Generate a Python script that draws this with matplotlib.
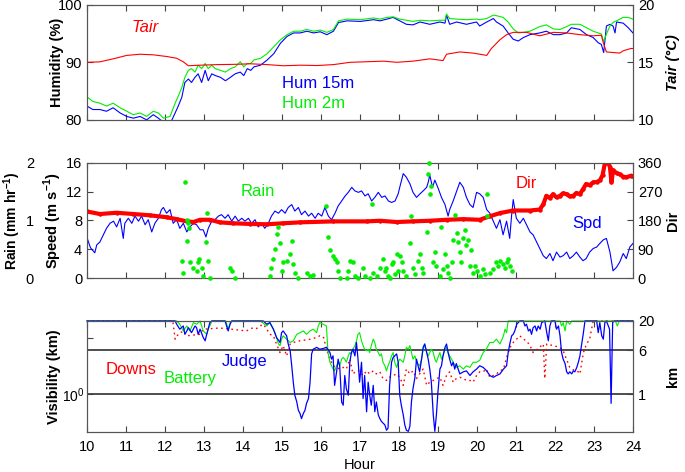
import matplotlib
matplotlib.use("Agg")
from matplotlib import pyplot as plt

plt.rcParams['font.family'] = ['Liberation Sans', 'DejaVu Sans']
plt.rcParams['mathtext.fontset'] = 'custom'
plt.rcParams['mathtext.rm'] = 'Liberation Sans'
plt.rcParams['mathtext.bf'] = 'Liberation Sans:bold'

BLUE = '#0000ff'
GREEN = '#00ee00'
RED = '#ff0000'

hours = list(range(10, 25))

# ---- top panel: humidity (%) at 15 m and 2 m, air temperature (C)
hum_hour = [10.0, 10.15, 10.33, 10.5, 10.67, 10.85, 11.02, 11.19, 11.36, 11.53,
            11.7, 11.83, 11.96, 12.13, 12.26, 12.34, 12.43, 12.51, 12.6, 12.68,
            12.77, 12.85, 12.94, 13.03, 13.11, 13.2, 13.29, 13.42, 13.55, 13.68,
            13.8, 13.93, 14.02, 14.11, 14.2, 14.28, 14.45, 14.62, 14.79, 14.96,
            15.13, 15.3, 15.47, 15.64, 15.81, 15.98, 16.15, 16.32, 16.45, 16.67,
            17.01, 17.35, 17.51, 17.69, 17.85, 18.02, 18.19, 18.36, 18.54, 18.79,
            19.05, 19.18, 19.22, 19.3, 19.48, 19.73, 19.99, 20.07, 20.25, 20.42,
            20.5, 20.67, 20.8, 20.93, 21.06, 21.19, 21.36, 21.61, 21.78, 21.96,
            22.13, 22.3, 22.42, 22.64, 22.81, 22.98, 23.11, 23.19, 23.25, 23.32,
            23.41, 23.49, 23.54, 23.58, 23.75, 23.88, 24.0]
hum15 = [82.4, 81.8, 81.8, 81.5, 82.1, 81.2, 80.6, 80.3, 80.6, 80.0,
         80.9, 80.3, 79.6, 79.3, 81.2, 82.4, 83.9, 86.5, 87.1, 86.5,
         87.4, 88.0, 86.5, 88.6, 86.8, 88.0, 87.7, 87.4, 86.8, 87.4,
         88.0, 88.3, 87.7, 88.9, 88.6, 89.2, 89.5, 90.4, 91.5, 93.3,
         94.5, 95.1, 95.1, 95.4, 95.1, 95.3, 94.8, 95.4, 96.9, 97.2,
         97.1, 97.4, 97.2, 97.5, 97.8, 97.2, 96.6, 96.5, 97.0, 96.6,
         97.0, 96.8, 98.2, 96.6, 97.0, 96.6, 97.0, 96.3, 97.0, 97.6,
         97.0, 96.3, 95.1, 94.0, 93.7, 94.3, 94.8, 95.1, 95.4, 94.8,
         94.8, 95.1, 96.0, 95.7, 94.8, 94.3, 93.4, 93.1, 91.7, 96.3,
         96.6, 96.3, 95.1, 97.0, 96.8, 96.0, 95.1]
hum2 = [84.0, 83.2, 82.9, 82.4, 82.9, 82.1, 81.5, 80.9, 81.2, 80.6,
        81.5, 81.2, 80.3, 80.6, 82.9, 84.1, 85.6, 87.4, 88.6, 88.9,
        88.3, 89.5, 88.9, 89.8, 88.9, 89.5, 88.9, 88.6, 88.3, 88.9,
        89.2, 90.1, 89.2, 89.8, 89.8, 90.4, 90.7, 91.5, 92.7, 93.9,
        94.8, 95.4, 95.4, 95.7, 95.4, 95.6, 95.2, 95.7, 97.2, 97.5,
        97.4, 97.7, 97.5, 97.8, 97.9, 97.5, 97.3, 97.1, 97.3, 97.2,
        97.3, 97.3, 98.4, 97.6, 97.5, 97.4, 97.5, 97.4, 97.6, 98.2,
        98.1, 97.8, 97.0, 95.8, 95.1, 95.2, 95.4, 96.2, 96.5, 95.8,
        95.7, 96.2, 96.6, 96.6, 96.0, 95.4, 95.1, 94.9, 93.6, 94.9,
        96.3, 96.9, 97.1, 97.2, 97.8, 97.8, 97.5]

tair_hour = [10.0, 10.33, 10.67, 11.02, 11.36, 11.7, 12.05, 12.3, 12.47, 12.6,
             12.9, 13.33, 13.76, 14.2, 14.62, 15.04, 15.47, 15.9, 16.32, 16.75,
             17.18, 17.61, 17.94, 18.36, 18.79, 19.13, 19.22, 19.56, 19.9, 20.25,
             20.37, 20.59, 20.76, 20.93, 21.27, 21.61, 21.96, 22.3, 22.64, 22.98,
             23.19, 23.24, 23.32, 23.49, 23.66, 23.75, 23.95, 24.0]
tair = [15.0, 15.04, 15.3, 15.6, 15.7, 15.65, 15.5, 15.35, 15.04, 14.7,
        14.75, 14.8, 14.82, 14.87, 14.8, 14.7, 14.75, 14.72, 14.8, 15.0,
        15.05, 15.1, 15.0, 15.1, 15.3, 15.15, 15.7, 15.9, 15.8, 15.6,
        16.2, 16.96, 17.4, 17.6, 17.6, 17.3, 17.6, 17.55, 17.4, 17.3,
        17.35, 16.7, 15.9, 15.85, 15.8, 16.0, 16.2, 16.2]

# ---- middle panel: wind speed (m/s), direction (deg), rain (mm/hr)
spd_pts = [(10.0, 5.6), (10.09, 4.2), (10.2, 3.5), (10.25, 4.6), (10.33, 5.0),
           (10.42, 6.0), (10.5, 6.9), (10.59, 7.6), (10.68, 7.9), (10.76, 7.1),
           (10.85, 8.3), (10.93, 5.5), (10.97, 7.6), (11.06, 8.3), (11.15, 7.6),
           (11.23, 8.6), (11.32, 7.9), (11.4, 8.6), (11.49, 7.4), (11.57, 8.1),
           (11.66, 6.4), (11.74, 7.6), (11.83, 8.3), (11.91, 9.5), (11.96, 9.8),
           (12.04, 9.0), (12.13, 9.5), (12.21, 7.6), (12.3, 8.1), (12.38, 6.9),
           (12.47, 7.6), (12.56, 6.4), (12.64, 7.1), (12.73, 7.6), (12.81, 7.4),
           (12.9, 6.7), (12.98, 6.7), (13.05, 5.7), (13.11, 6.9), (13.2, 7.9),
           (13.28, 8.1), (13.37, 8.6), (13.45, 8.8), (13.54, 8.3), (13.62, 8.8),
           (13.71, 7.9), (13.8, 8.6), (13.88, 7.9), (13.97, 8.3), (14.05, 7.9),
           (14.14, 8.3), (14.22, 7.6), (14.31, 8.1), (14.39, 7.1), (14.48, 7.6),
           (14.56, 6.9), (14.65, 7.6), (14.73, 8.6), (14.82, 9.3), (14.91, 9.0),
           (14.99, 9.5), (15.08, 9.0), (15.16, 9.8), (15.25, 10.2), (15.33, 9.3),
           (15.42, 9.8), (15.5, 8.8), (15.59, 9.3), (15.68, 8.6), (15.76, 9.0),
           (15.85, 8.3), (15.93, 9.0), (16.02, 8.6), (16.1, 9.8), (16.19, 8.6),
           (16.27, 8.1), (16.36, 9.0), (16.44, 10.0), (16.53, 10.7), (16.62, 11.4),
           (16.7, 11.9), (16.79, 12.6), (16.87, 12.1), (16.96, 11.9), (17.04, 12.1),
           (17.13, 11.4), (17.21, 11.7), (17.3, 10.7), (17.38, 11.2), (17.47, 11.9),
           (17.56, 11.2), (17.64, 11.4), (17.73, 10.7), (17.81, 10.5), (17.9, 10.7),
           (17.98, 11.7), (18.02, 12.6), (18.11, 14.5), (18.19, 14.0), (18.28, 13.1),
           (18.36, 11.9), (18.45, 11.2), (18.54, 11.7), (18.62, 12.1), (18.71, 12.6),
           (18.75, 13.3), (18.79, 14.3), (18.86, 12.6), (18.92, 13.6), (19.01, 12.4),
           (19.09, 11.2), (19.18, 10.2), (19.26, 8.6), (19.3, 9.5), (19.39, 10.7),
           (19.48, 12.1), (19.56, 13.3), (19.65, 12.6), (19.73, 11.2), (19.82, 10.2),
           (19.9, 9.8), (19.99, 11.9), (20.07, 11.7), (20.16, 11.2), (20.25, 9.5),
           (20.33, 9.0), (20.42, 7.9), (20.5, 6.9), (20.59, 8.1), (20.67, 6.0),
           (20.76, 7.9), (20.84, 5.5), (20.89, 8.8), (20.93, 10.9), (21.01, 8.3),
           (21.1, 7.6), (21.19, 8.3), (21.27, 7.4), (21.36, 6.4), (21.44, 6.0),
           (21.53, 5.0), (21.61, 4.1), (21.7, 3.1), (21.78, 2.7), (21.87, 3.4),
           (21.95, 2.4), (22.04, 3.6), (22.13, 2.9), (22.21, 3.1), (22.3, 3.6),
           (22.38, 2.7), (22.47, 3.1), (22.55, 3.6), (22.64, 2.9), (22.72, 2.4),
           (22.8, 2.7), (22.89, 3.6), (22.98, 4.1), (23.07, 4.3), (23.15, 4.8),
           (23.24, 5.3), (23.32, 5.5), (23.41, 3.6), (23.49, 1.0), (23.58, 1.5),
           (23.66, 2.2), (23.75, 3.4), (23.83, 2.7), (23.92, 4.3), (24.0, 4.8)]

dir_pts = [(10.0, 208), (10.33, 200), (10.76, 204), (11.19, 200), (11.61, 196),
           (12.04, 190), (12.3, 184), (12.56, 177), (12.73, 175), (12.9, 182),
           (13.15, 182), (13.41, 174), (13.75, 171), (14.18, 169), (14.61, 168),
           (15.03, 171), (15.46, 174), (16.32, 177), (17.17, 177), (17.51, 179),
           (17.94, 175), (18.36, 177), (18.79, 179), (19.22, 182), (19.65, 184),
           (20.07, 182), (20.33, 193), (20.59, 203), (20.93, 211), (21.36, 211),
           (21.61, 214), (21.7, 230), (21.78, 257), (21.87, 250), (21.95, 262),
           (22.04, 252), (22.13, 257), (22.21, 265), (22.3, 262), (22.38, 255),
           (22.47, 257), (22.55, 266), (22.64, 262), (22.72, 278), (22.8, 294),
           (22.89, 290), (22.98, 299), (23.07, 300), (23.15, 305), (23.22, 321),
           (23.28, 358), (23.37, 360), (23.41, 347), (23.45, 299), (23.49, 337),
           (23.58, 328), (23.66, 324), (23.75, 317), (23.83, 315), (23.96, 320),
           (24.0, 318)]

rain_pts = [(12.45, 0.09), (12.43, 0.30), (12.51, 1.67), (12.56, 0.65), (12.57, 1.01),
            (12.6, 0.95), (12.62, 0.86), (12.64, 0.27), (12.73, 0.18), (12.81, 0.12),
            (12.85, 0.27), (12.88, 0.33), (12.94, 0.18), (12.98, 0.03), (13.05, 0.63),
            (13.07, 1.13), (13.11, 0.30), (13.15, 0.0), (13.67, 0.18), (13.71, 0.12),
            (13.8, 0.0), (14.69, 0.03), (14.73, 0.18), (14.78, 0.33), (14.82, 0.51),
            (14.86, 0.77), (14.89, 0.88), (14.95, 0.60), (14.99, 0.12), (15.03, 0.27),
            (15.12, 0.30), (15.2, 0.42), (15.25, 0.65), (15.29, 0.24), (15.33, 0.09),
            (15.42, 0.0), (15.63, 0.09), (15.72, 0.03), (15.8, 0.06), (16.14, 1.25),
            (16.17, 0.71), (16.23, 0.48), (16.32, 0.39), (16.36, 0.33), (16.4, 0.27),
            (16.44, 0.12), (16.49, 0.0), (16.66, 0.0), (16.7, 0.12), (16.74, 0.30),
            (16.83, 0.27), (16.87, 0.03), (16.96, 0.0), (17.08, 0.18), (17.13, 0.03),
            (17.26, 0.0), (17.3, 1.28), (17.34, 0.09), (17.43, 0.03), (17.51, 0.18),
            (17.6, 0.33), (17.64, 0.12), (17.68, 0.18), (17.72, 0.04), (17.77, 0.0),
            (17.81, 0.24), (17.85, 0.27), (17.89, 0.07), (17.94, 0.42), (17.98, 0.12),
            (18.02, 0.39), (18.07, 0.27), (18.11, 0.12), (18.19, 0.04), (18.28, 0.60),
            (18.32, 1.07), (18.36, 0.18), (18.41, 0.07), (18.49, 0.30), (18.54, 0.42),
            (18.58, 0.18), (18.62, 0.09), (18.71, 0.80), (18.75, 1.81), (18.78, 1.99),
            (18.79, 1.46), (18.81, 1.60), (18.88, 0.27), (18.92, 0.45), (18.96, 0.21),
            (19.05, 0.04), (19.09, 0.89), (19.13, 0.15), (19.18, 0.42), (19.22, 0.21),
            (19.26, 0.09), (19.3, 0.0), (19.35, 0.27), (19.39, 0.66), (19.43, 1.10),
            (19.48, 0.78), (19.52, 0.63), (19.56, 0.45), (19.6, 0.27), (19.65, 0.69),
            (19.69, 0.83), (19.73, 0.57), (19.77, 0.66), (19.82, 0.21), (19.86, 0.48),
            (19.9, 0.09), (19.95, 0.21), (19.99, 0.12), (20.07, 0.04), (20.16, 0.15),
            (20.2, 0.07), (20.25, 1.46), (20.26, 1.07), (20.33, 0.09), (20.42, 0.15),
            (20.5, 0.27), (20.54, 0.21), (20.59, 0.30), (20.67, 0.24), (20.71, 0.18),
            (20.76, 0.27), (20.8, 0.33), (20.84, 0.21), (20.89, 0.12)]

# ---- bottom panel: visibility (km) at three sites
judge_pts = [(10.0, 20), (12.26, 20), (12.3, 17.5), (12.38, 14.3), (12.47, 16.3),
             (12.51, 11.6), (12.56, 13.3), (12.6, 15.2), (12.68, 12.4), (12.77, 16.3),
             (12.81, 15.2), (12.85, 11.6), (12.9, 14.3), (12.98, 10.2), (13.03, 8.9),
             (13.07, 11.6), (13.15, 18.7), (13.2, 20), (13.54, 20), (13.58, 16.3),
             (13.62, 13.3), (13.67, 17.5), (13.71, 20), (14.52, 20), (14.61, 17.5),
             (14.69, 18.7), (14.78, 14.3), (14.86, 10.2), (14.95, 8.3), (14.99, 12.4),
             (15.03, 13.3), (15.12, 10.9), (15.16, 7.8), (15.21, 5.9), (15.25, 3.2),
             (15.29, 1.64), (15.33, 0.96), (15.38, 0.73), (15.42, 0.52), (15.46, 0.46),
             (15.5, 0.37), (15.55, 0.46), (15.59, 0.52), (15.63, 0.69), (15.68, 0.84),
             (15.72, 1.64), (15.76, 5.2), (15.8, 6.3), (15.89, 6.8), (15.97, 6.3),
             (16.06, 6.5), (16.14, 6.8), (16.23, 5.5), (16.27, 4.2), (16.31, 4.8),
             (16.35, 1.44), (16.4, 2.5), (16.44, 4.2), (16.48, 3.2), (16.53, 0.73),
             (16.57, 0.64), (16.61, 2.15), (16.65, 1.26), (16.7, 0.96), (16.74, 3.7),
             (16.78, 5.5), (16.82, 6.3), (16.87, 4.8), (16.91, 8.3), (16.95, 4.2),
             (16.99, 1.64), (17.04, 3.7), (17.08, 0.84), (17.12, 2.15), (17.17, 0.49),
             (17.21, 1.64), (17.25, 0.96), (17.29, 0.64), (17.34, 1.44), (17.38, 0.49),
             (17.42, 0.73), (17.47, 0.43), (17.51, 0.37), (17.55, 0.33), (17.59, 0.31),
             (17.64, 0.285), (17.68, 0.23), (17.72, 0.25), (17.76, 1.44), (17.81, 3.7),
             (17.85, 4.5), (17.89, 4.8), (17.94, 5.2), (17.98, 3.7), (18.02, 0.96),
             (18.06, 0.64), (18.11, 0.43), (18.15, 0.285), (18.19, 0.23), (18.24, 0.22),
             (18.28, 0.27), (18.32, 0.73), (18.36, 1.26), (18.41, 2.0), (18.45, 4.2),
             (18.49, 3.2), (18.53, 2.5), (18.58, 4.2), (18.62, 6.8), (18.66, 7.8),
             (18.71, 5.5), (18.75, 4.2), (18.79, 2.8), (18.83, 1.64), (18.88, 0.43),
             (18.92, 0.22), (18.96, 0.43), (19.0, 1.1), (19.05, 2.8), (19.09, 3.2),
             (19.13, 4.8), (19.18, 6.8), (19.22, 7.8), (19.26, 5.5), (19.3, 4.2),
             (19.35, 3.2), (19.39, 3.7), (19.43, 2.8), (19.47, 3.5), (19.56, 2.3),
             (19.65, 2.5), (19.73, 2.6), (19.82, 2.15), (19.9, 2.5), (19.99, 2.8),
             (20.07, 3.2), (20.16, 3.0), (20.25, 2.6), (20.33, 2.15), (20.42, 2.0),
             (20.5, 2.15), (20.59, 2.3), (20.68, 2.8), (20.76, 3.2), (20.8, 5.5),
             (20.85, 8.3), (20.89, 10.9), (20.93, 11.6), (20.97, 13.3), (21.02, 17.5),
             (21.06, 18.7), (21.1, 20), (21.19, 20), (21.23, 16.3), (21.27, 17.5),
             (21.32, 13.3), (21.36, 14.3), (21.4, 11.6), (21.44, 15.2), (21.49, 16.3),
             (21.53, 13.3), (21.57, 16.3), (21.62, 14.3), (21.66, 18.7), (21.74, 20),
             (21.79, 12.4), (21.83, 8.9), (21.87, 16.3), (21.91, 20), (22.0, 20),
             (22.04, 14.3), (22.09, 16.3), (22.13, 10.9), (22.17, 5.5), (22.21, 4.2),
             (22.26, 3.5), (22.3, 2.5), (22.34, 2.3), (22.38, 2.5), (22.43, 2.3),
             (22.47, 2.6), (22.51, 2.5), (22.56, 3.0), (22.6, 3.7), (22.64, 4.8),
             (22.68, 7.3), (22.73, 12.4), (22.77, 20), (23.07, 20), (23.11, 12.4),
             (23.15, 18.7), (23.2, 10.9), (23.24, 9.5), (23.28, 18.7), (23.32, 20),
             (23.4, 14.3), (23.44, 0.69), (23.48, 18.7), (23.52, 20), (24.0, 20)]

battery_pts = [(10.0, 20), (12.3, 20), (12.38, 17.5), (12.47, 13.3), (12.56, 16.3),
               (12.64, 13.3), (12.73, 18.7), (12.81, 17.5), (12.9, 20), (12.98, 13.3),
               (13.07, 11.6), (13.11, 14.3), (13.15, 16.3), (13.2, 20), (13.56, 20),
               (13.62, 14.3), (13.67, 18.7), (13.71, 20), (14.44, 20), (14.61, 16.3),
               (14.69, 18.7), (14.82, 12.4), (14.91, 7.8), (14.95, 7.3), (14.99, 9.5),
               (15.03, 10.9), (15.12, 9.5), (15.21, 8.3), (15.29, 8.9), (15.38, 11.6),
               (15.46, 12.4), (15.55, 13.3), (15.63, 11.6), (15.72, 13.3), (15.8, 14.3),
               (15.89, 12.4), (15.93, 16.3), (15.97, 18.7), (16.06, 17.5), (16.14, 16.3),
               (16.18, 5.5), (16.23, 3.7), (16.31, 2.8), (16.35, 2.6), (16.4, 3.2),
               (16.44, 3.7), (16.48, 3.2), (16.53, 4.2), (16.57, 4.5), (16.61, 4.2),
               (16.65, 3.7), (16.7, 4.8), (16.74, 5.5), (16.78, 5.2), (16.82, 6.3),
               (16.87, 7.3), (16.91, 8.9), (16.95, 11.6), (16.99, 12.4), (17.04, 8.9),
               (17.08, 7.3), (17.12, 6.3), (17.17, 5.9), (17.21, 6.3), (17.25, 5.5),
               (17.29, 7.3), (17.34, 9.5), (17.38, 8.3), (17.42, 6.3), (17.47, 5.5),
               (17.51, 4.8), (17.55, 5.2), (17.59, 3.7), (17.64, 3.2), (17.68, 2.6),
               (17.72, 3.2), (17.76, 3.7), (17.81, 4.8), (17.85, 5.5), (17.89, 3.7),
               (17.94, 3.0), (17.98, 3.7), (18.02, 4.2), (18.11, 3.7), (18.15, 4.8),
               (18.19, 6.8), (18.24, 6.3), (18.28, 7.3), (18.32, 5.5), (18.36, 4.2),
               (18.41, 4.8), (18.45, 3.7), (18.53, 3.2), (18.58, 4.2), (18.62, 6.3),
               (18.66, 7.8), (18.71, 5.5), (18.75, 4.8), (18.79, 5.5), (18.83, 6.3),
               (18.88, 5.5), (18.92, 4.2), (18.96, 3.7), (19.0, 4.5), (19.05, 5.5),
               (19.09, 4.2), (19.13, 4.8), (19.18, 6.3), (19.22, 6.8), (19.26, 5.5),
               (19.3, 4.8), (19.35, 4.2), (19.39, 3.7), (19.47, 3.0), (19.56, 3.2),
               (19.65, 2.8), (19.73, 3.2), (19.82, 3.0), (19.9, 3.7), (19.99, 3.7),
               (20.07, 4.0), (20.16, 5.5), (20.24, 6.3), (20.33, 8.3), (20.42, 8.3),
               (20.5, 9.5), (20.59, 7.8), (20.68, 10.9), (20.72, 14.3), (20.76, 12.4),
               (20.8, 20), (22.13, 20), (22.17, 16.3), (22.21, 18.7), (22.26, 13.3),
               (22.3, 20), (22.38, 17.5), (22.43, 20), (23.55, 20), (23.6, 16.3),
               (23.65, 20), (24.0, 20)]

downs_pts = [(10.0, 20), (12.2, 20), (12.26, 9.5), (12.34, 11.6), (12.47, 13.3),
             (12.56, 10.9), (12.9, 11.6), (12.98, 14.3), (13.4, 15.0), (13.7, 14.3),
             (14.09, 13.3), (14.18, 14.3), (14.26, 15.2), (14.35, 14.7), (14.44, 16.3),
             (14.52, 17.5), (14.61, 14.3), (14.69, 11.6), (14.78, 10.9), (14.86, 7.8),
             (14.95, 5.5), (15.03, 7.3), (15.12, 4.8), (15.21, 7.8), (15.29, 8.3),
             (15.38, 8.6), (15.46, 8.9), (15.55, 9.1), (15.63, 9.2), (15.72, 9.5),
             (15.8, 9.8), (15.89, 10.2), (15.97, 10.9), (16.06, 10.5), (16.15, 6.0),
             (16.23, 4.2), (16.31, 3.2), (16.4, 3.0), (16.48, 2.8), (16.57, 3.0),
             (16.65, 2.8), (16.74, 4.2), (16.82, 2.3), (16.91, 2.6), (16.99, 2.6),
             (17.08, 2.15), (17.17, 2.6), (17.25, 2.3), (17.34, 2.6), (17.42, 2.3),
             (17.51, 2.5), (17.59, 1.9), (17.68, 1.76), (17.76, 2.0), (17.85, 2.15),
             (17.94, 2.3), (18.02, 2.0), (18.11, 1.44), (18.19, 2.8), (18.28, 2.3),
             (18.36, 2.6), (18.45, 1.9), (18.53, 2.3), (18.62, 2.8), (18.71, 1.44),
             (18.79, 1.64), (18.88, 1.76), (18.96, 1.9), (19.05, 2.0), (19.13, 1.44),
             (19.22, 2.15), (19.3, 2.5), (19.39, 1.64), (19.47, 1.9), (19.56, 2.0),
             (19.65, 1.9), (19.73, 1.76), (19.82, 1.76), (19.9, 1.64), (19.99, 2.15),
             (20.07, 2.5), (20.16, 2.5), (20.24, 2.8), (20.33, 2.0), (20.42, 2.15),
             (20.5, 2.3), (20.59, 2.6), (20.68, 2.8), (20.76, 4.5), (20.85, 6.8),
             (20.93, 8.3), (21.1, 10.9), (21.19, 9.5), (21.27, 8.9), (21.36, 7.3),
             (21.44, 5.5), (21.57, 6.5), (21.7, 7.8), (21.74, 1.9), (21.79, 7.8),
             (22.13, 6.8), (22.21, 5.9), (22.38, 3.0), (22.51, 2.6), (22.6, 2.5),
             (22.64, 2.3), (22.73, 5.5), (22.81, 7.8), (22.89, 9.5), (22.98, 20),
             (24.0, 20)]

vis_lines = [6, 1]


def style(ax, ticklabels=False):
    ax.set_xlim(10, 24)
    ax.set_xticks(hours)
    ax.tick_params(axis='x', direction='in', top=True, bottom=True, length=4,
                   width=0.8, color='#444444', labelsize=10.5, pad=6,
                   labelbottom=ticklabels)
    ax.tick_params(axis='y', direction='in', length=4, width=0.8,
                   color='#444444', labelsize=10.5)
    for s in ax.spines.values():
        s.set_linewidth(0.8)
        s.set_color('#555555')


def yl(ax, text, x, **kw):
    ax.set_ylabel(text, fontsize=10.5, fontweight='bold', **kw)
    ax.yaxis.set_label_coords(x, 0.5)


fig = plt.figure(figsize=(6.85, 4.72), dpi=100)
L, W = 0.127, 0.797
XL, XR, XRAIN = -0.042, 1.060, -0.117

# ---------------- top
ax_h = fig.add_axes([L, 0.746, W, 0.244])
ax_t = ax_h.twinx()
ax_h.plot(hum_hour, hum15, color=BLUE, lw=0.8)
ax_h.plot(hum_hour, hum2, color=GREEN, lw=0.8)
ax_t.plot(tair_hour, tair, color=RED, lw=0.8)
ax_h.set_ylim(80, 100)
ax_h.set_yticks([80, 90, 100])
ax_t.set_ylim(10, 20)
ax_t.set_yticks([10, 15, 20])
style(ax_h)
style(ax_t)
yl(ax_h, 'Humidity (%)', XL)
yl(ax_t, 'Tair (°C)', XR, fontstyle='italic')
ax_h.text(11.5, 96.0, 'Tair', color=RED, fontsize=12, style='italic', ha='center', va='center')
ax_h.text(15.0, 86.4, 'Hum 15m', color=BLUE, fontsize=12, ha='left', va='center')
ax_h.text(15.0, 82.8, 'Hum 2m', color=GREEN, fontsize=12, ha='left', va='center')

# ---------------- middle
ax_s = fig.add_axes([L, 0.411, W, 0.244])
ax_d = ax_s.twinx()
ax_r = ax_s.twinx()
ax_s.plot([p[0] for p in spd_pts], [p[1] for p in spd_pts], color=BLUE, lw=0.8)
ax_d.plot([p[0] for p in dir_pts], [p[1] for p in dir_pts], color=RED, lw=3,
          marker='o', ms=3.2, mec='none', solid_joinstyle='round')
ax_r.plot([p[0] for p in rain_pts], [p[1] for p in rain_pts], 'o', color=GREEN,
          ms=3.3, mec='none', clip_on=False)
ax_s.set_ylim(0, 16)
ax_s.set_yticks([0, 4, 8, 12, 16])
ax_d.set_ylim(0, 360)
ax_d.set_yticks([0, 90, 180, 270, 360])
ax_r.set_ylim(0, 2)
ax_r.set_yticks([0, 1, 2])
style(ax_s)
style(ax_d)
ax_r.yaxis.set_ticks_position('left')
ax_r.yaxis.set_label_position('left')
for s in ax_r.spines.values():
    s.set_visible(False)
ax_r.spines['left'].set_position(('axes', -0.092))
ax_r.tick_params(axis='y', length=0, labelsize=10.5, pad=2)
yl(ax_s, r'Speed (m s$^{\mathbf{-1}}$)', XL)
yl(ax_d, 'Dir', XR)
ax_r.set_ylabel(r'Rain (mm hr$^{\mathbf{-1}}$)', fontsize=10, fontweight='bold')
ax_r.yaxis.set_label_coords(XRAIN, 0.5)
ax_s.text(14.39, 12.0, 'Rain', color=GREEN, fontsize=12, ha='center', va='center')
ax_s.text(21.26, 13.1, 'Dir', color=RED, fontsize=12, ha='center', va='center')
ax_s.text(22.82, 7.6, 'Spd', color=BLUE, fontsize=12, ha='center', va='center')

# ---------------- bottom
ax_v = fig.add_axes([L, 0.085, W, 0.235])
ax_k = ax_v.twinx()
for v in vis_lines:
    ax_v.axhline(v, color='#404040', lw=1.3)
ax_v.plot([p[0] for p in downs_pts], [p[1] for p in downs_pts], color=RED, lw=1,
          ls=(0, (1.2, 2.5)), clip_on=False)
ax_v.plot([p[0] for p in battery_pts], [p[1] for p in battery_pts], color=GREEN,
          lw=0.8, clip_on=False)
ax_v.plot([p[0] for p in judge_pts], [p[1] for p in judge_pts], color=BLUE,
          lw=0.9, clip_on=False)
for a in (ax_v, ax_k):
    a.set_yscale('log')
    a.set_ylim(0.215, 20)
    a.yaxis.set_minor_locator(plt.NullLocator())
ax_v.set_yticks([1, 10])
ax_v.set_yticklabels(['$10^0$', ''])
ax_k.set_yticks([1, 6, 20])
ax_k.set_yticklabels(['1', '6', '20'])
style(ax_v, ticklabels=True)
style(ax_k, ticklabels=True)
ax_v.tick_params(axis='y', pad=1.5, labelsize=10)
yl(ax_v, 'Visibility (km)', XL - 0.006)
yl(ax_k, 'km', XR)
ax_v.set_xlabel('Hour', fontsize=10.5, labelpad=3)
ax_v.text(11.13, 2.75, 'Downs', color=RED, fontsize=12, ha='center', va='center')
ax_v.text(12.64, 1.9, 'Battery', color=GREEN, fontsize=12, ha='center', va='center')
ax_v.text(14.03, 3.8, 'Judge', color=BLUE, fontsize=12, ha='center', va='center')

fig.savefig('out.png', dpi=100)
